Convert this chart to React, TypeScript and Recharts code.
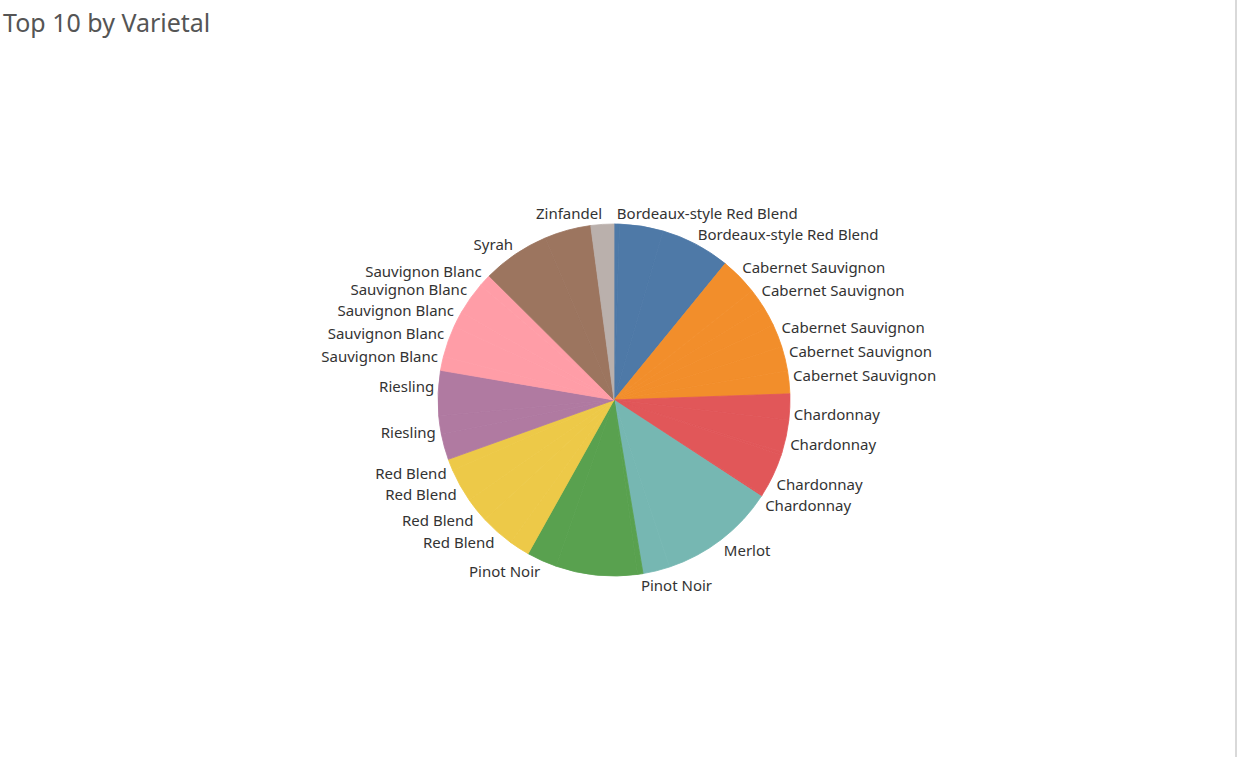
import React from "react";
import { PieChart, Pie, Cell } from "recharts";

const varietals = [
  "Bordeaux-style Red Blend",
  "Cabernet Sauvignon",
  "Chardonnay",
  "Merlot",
  "Pinot Noir",
  "Red Blend",
  "Riesling",
  "Sauvignon Blanc",
  "Syrah",
  "Zinfandel",
];

const varietalColors = [
  "#4e79a7",
  "#f28e2b",
  "#e15759",
  "#76b7b2",
  "#59a14f",
  "#edc948",
  "#b07aa1",
  "#ff9da7",
  "#9c755f",
  "#bab0ac",
];

// sub-marks (detail level) of each varietal, in drawing order
const markVarietal = [
  0, 0, 0,
  1, 1, 1, 1, 1, 1,
  2, 2, 2, 2, 2,
  3, 3,
  4, 4, 4,
  5, 5, 5, 5, 5,
  6, 6, 6,
  7, 7, 7, 7, 7,
  8, 8,
  9,
];

const markShare = [
  1.8, 14.4, 23.0,
  12.4, 6.8, 6.4, 7.6, 8.0, 7.6,
  8.6, 10.6, 1.0, 14.4, 0.6,
  38.4, 8.9,
  1.8, 26.9, 10.0,
  6.8, 11.2, 8.2, 11.1, 3.8,
  8.6, 6.0, 14.8,
  4.6, 10.4, 5.2, 10.8, 4.1,
  22.2, 15.4,
  7.6,
];

// whether the mark label is shown (Tableau hides overlapping labels)
const markLabelShown = [
  true, false, true,
  true, true, false, true, true, true,
  true, true, false, true, true,
  true, false,
  true, false, true,
  false, true, true, true, true,
  false, true, true,
  true, true, true, true, true,
  true, false,
  true,
];

const data = markShare.map((v, i) => ({
  name: varietals[markVarietal[i]],
  value: v,
  v: markVarietal[i],
}));

const RAD = Math.PI / 180;

const renderLabel = (props: any) => {
  const { cx, cy, midAngle, outerRadius, index } = props;
  if (!markLabelShown[index]) return null;
  const r = outerRadius + 4;
  const x = cx + r * Math.cos(-midAngle * RAD);
  const y = cy + r * Math.sin(-midAngle * RAD);
  const anchor = x >= cx ? "start" : "end";
  const yc = y < cy ? y - 7 : y + 7;
  return (
    <text
      key={"lbl" + index}
      x={x}
      y={yc}
      textAnchor={anchor}
      dominantBaseline="central"
      fill="#333333"
      fontSize={15}
      fontFamily="'Noto Sans', sans-serif"
    >
      {data[index].name}
    </text>
  );
};

export default function App() {
  return (
    <div
      style={{
        position: "absolute",
        left: 0,
        top: 0,
        width: 1237,
        height: 757,
        background: "#ffffff",
        overflow: "hidden",
      }}
    >
      <div
        style={{
          position: "absolute",
          left: 3,
          top: 5,
          fontFamily: "'Noto Sans', sans-serif",
          fontSize: 25,
          lineHeight: "34px",
          color: "#555555",
          whiteSpace: "nowrap",
        }}
      >
        Top 10 by Varietal
      </div>
      <div
        style={{
          position: "absolute",
          left: 1235,
          top: 0,
          width: 2,
          height: 757,
          background: "#d9d9d9",
        }}
      />
      <div style={{ position: "absolute", left: 0, top: 0 }}>
        <PieChart
          width={1230}
          height={757}
          margin={{ top: 0, right: 0, bottom: 0, left: 0 }}
        >
          <Pie
            data={data}
            dataKey="value"
            nameKey="name"
            cx={614}
            cy={400}
            outerRadius={176}
            startAngle={90}
            endAngle={-270}
            labelLine={false}
            label={renderLabel}
            isAnimationActive={false}
          >
            {data.map((d, i) => (
              <Cell
                key={"c" + i}
                fill={varietalColors[d.v]}
                stroke={varietalColors[d.v]}
                strokeWidth={0.8}
              />
            ))}
          </Pie>
        </PieChart>
      </div>
    </div>
  );
}
